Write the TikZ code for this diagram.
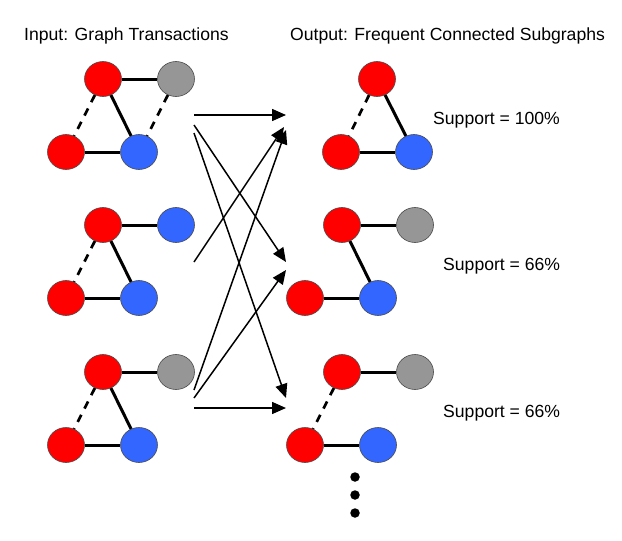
\documentclass[tikz,border=0pt]{standalone}
\usepackage{fontspec}
\setmainfont{Liberation Sans}
\usetikzlibrary{arrows.meta,shapes.geometric}
\definecolor{fsgred}{RGB}{255,0,0}
\definecolor{fsgblue}{RGB}{51,102,255}
\definecolor{fsggray}{RGB}{150,150,150}

\begin{document}
\begin{tikzpicture}[x=1pt, y=-1pt,
    every node/.style={font=\fontsize{17.6}{21}\selectfont, inner sep=0pt},
    vertex/.style={ellipse, draw=black!70, line width=0.6pt, minimum width=37pt, minimum height=35pt},
    redv/.style={vertex, fill=fsgred},
    bluev/.style={vertex, fill=fsgblue},
    grayv/.style={vertex, fill=fsggray},
    bond/.style={line width=3pt},
    weakbond/.style={line width=2.7pt, dash pattern=on 8pt off 7pt},
    flow/.style={line width=1.5pt, -{Triangle[length=14pt,width=12pt]}}]
    \useasboundingbox (0,0) rectangle (622,541);

    % Titles
    \node[anchor=base west] (intitle) at (24,40.5) {Input: Graph Transactions};
    \node[anchor=base west] (outtitle) at (290,40.5) {Output: Frequent Connected Subgraphs};

    % Input transaction 1
    \node[redv] (i1tl) at (103,79) {};
    \node[grayv] (i1tr) at (176,79) {};
    \node[redv] (i1bl) at (66,152) {};
    \node[bluev] (i1br) at (139,152) {};
    \draw[bond] (i1tl) -- (i1tr);
    \draw[bond] (i1tl) -- (i1br);
    \draw[bond] (i1bl) -- (i1br);
    \draw[weakbond] (i1tl) -- (i1bl);
    \draw[weakbond] (i1tr) -- (i1br);

    % Input transaction 2
    \node[redv] (i2tl) at (103,225) {};
    \node[bluev] (i2tr) at (176,225) {};
    \node[redv] (i2bl) at (66,298) {};
    \node[bluev] (i2br) at (139,298) {};
    \draw[bond] (i2tl) -- (i2tr);
    \draw[bond] (i2tl) -- (i2br);
    \draw[bond] (i2bl) -- (i2br);
    \draw[weakbond] (i2tl) -- (i2bl);

    % Input transaction 3
    \node[redv] (i3tl) at (103,372) {};
    \node[grayv] (i3tr) at (176,372) {};
    \node[redv] (i3bl) at (66,445) {};
    \node[bluev] (i3br) at (139,445) {};
    \draw[bond] (i3tl) -- (i3tr);
    \draw[bond] (i3tl) -- (i3br);
    \draw[bond] (i3bl) -- (i3br);
    \draw[weakbond] (i3tl) -- (i3bl);

    % Output subgraph 1
    \node[redv] (o1t) at (377,79) {};
    \node[redv] (o1bl) at (341,152) {};
    \node[bluev] (o1br) at (414,152) {};
    \draw[bond] (o1t) -- (o1br);
    \draw[bond] (o1bl) -- (o1br);
    \draw[weakbond] (o1t) -- (o1bl);
    \node[anchor=base west] (sup1) at (433,124) {Support = 100\%};

    % Output subgraph 2
    \node[redv] (o2tl) at (342,225) {};
    \node[grayv] (o2tr) at (415,225) {};
    \node[redv] (o2bl) at (305,298) {};
    \node[bluev] (o2br) at (378,298) {};
    \draw[bond] (o2tl) -- (o2tr);
    \draw[bond] (o2tl) -- (o2br);
    \draw[bond] (o2bl) -- (o2br);
    \node[anchor=base west] (sup2) at (443,270) {Support = 66\%};

    % Output subgraph 3
    \node[redv] (o3tl) at (342,372) {};
    \node[grayv] (o3tr) at (415,372) {};
    \node[redv] (o3bl) at (305,445) {};
    \node[bluev] (o3br) at (378,445) {};
    \draw[bond] (o3tl) -- (o3tr);
    \draw[bond] (o3bl) -- (o3br);
    \draw[weakbond] (o3tl) -- (o3bl);
    \node[anchor=base west] (sup3) at (443,417.5) {Support = 66\%};

    % More subgraphs
    \foreach \y in {477,495,513} {
        \node[circle, fill=black, minimum size=9.5pt] (more\y) at (355,\y) {};
    }

    % Mapping arrows
    \coordinate (s1a) at (194,115);
    \coordinate (s1b) at (194,125);
    \coordinate (s1c) at (194,133);
    \coordinate (s2) at (194,262);
    \coordinate (s3a) at (194,390);
    \coordinate (s3b) at (194,398);
    \coordinate (s3c) at (194,408);
    \coordinate (t1a) at (286,115);
    \coordinate (t1b) at (284,127);
    \coordinate (t1c) at (286,130);
    \coordinate (t2a) at (286,262);
    \coordinate (t2b) at (286,270);
    \coordinate (t3a) at (286,398);
    \coordinate (t3b) at (286,408);
    \draw[flow] (s1a) -- (t1a);
    \draw[flow] (s1b) -- (t2a);
    \draw[flow] (s1c) -- (t3a);
    \draw[flow] (s2) -- (t1b);
    \draw[flow] (s3a) -- (t1c);
    \draw[flow] (s3b) -- (t2b);
    \draw[flow] (s3c) -- (t3b);
\end{tikzpicture}
\end{document}
